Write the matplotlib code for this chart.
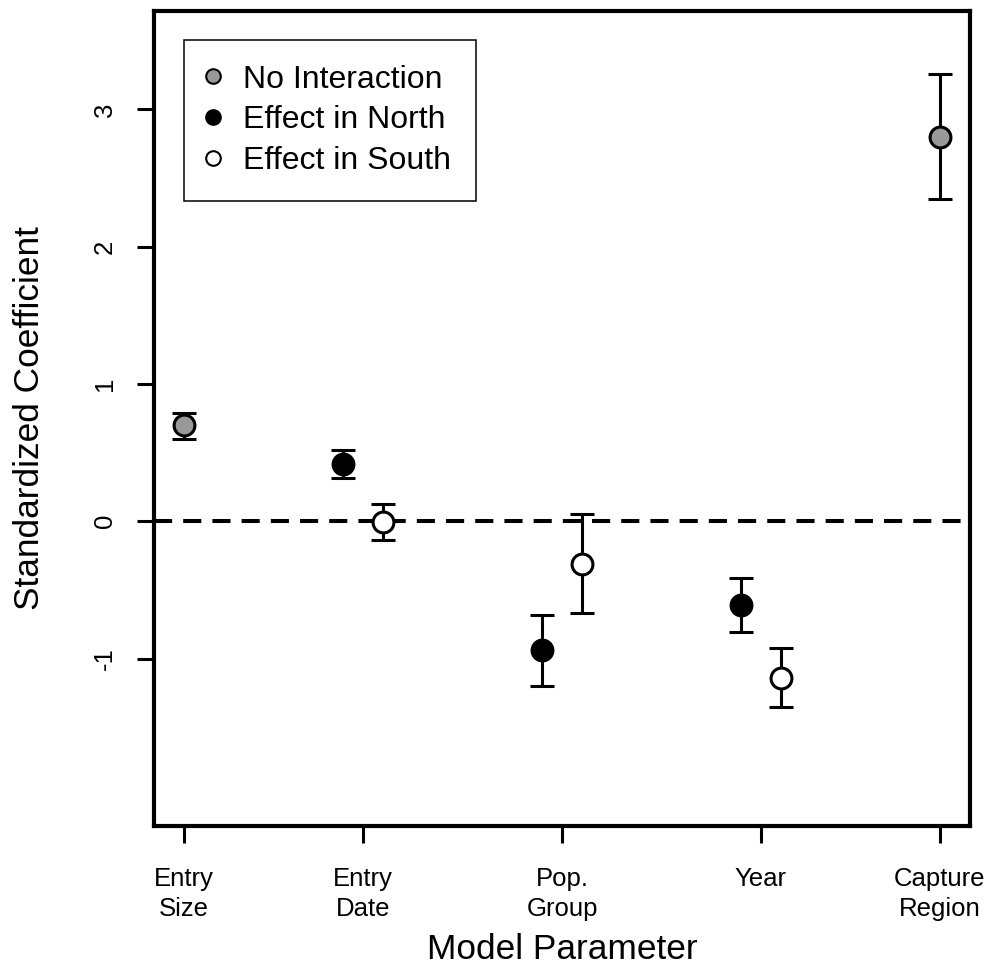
import matplotlib.pyplot as plt
from matplotlib.lines import Line2D

plt.rcParams['font.family'] = ['Liberation Sans', 'DejaVu Sans']
plt.rcParams['axes.unicode_minus'] = False

# Parameter names along the x axis and where their ticks sit
param_labels = ['Entry\nSize', 'Entry\nDate', 'Pop.\nGroup', 'Year', 'Capture\nRegion']
param_pos = [1.0, 1.9, 2.9, 3.9, 4.8]

# Terms without a region interaction
none_x = [1.0, 4.8]
none_est = [0.70, 2.80]
none_lo = [0.60, 2.35]
none_hi = [0.79, 3.26]

# Effect in the northern region
north_x = [1.8, 2.8, 3.8]
north_est = [0.42, -0.94, -0.61]
north_lo = [0.315, -1.20, -0.81]
north_hi = [0.52, -0.685, -0.415]

# Effect in the southern region
south_x = [2.0, 3.0, 4.0]
south_est = [-0.005, -0.31, -1.14]
south_lo = [-0.14, -0.67, -1.35]
south_hi = [0.125, 0.055, -0.92]

y_ticks = [-1, 0, 1, 2, 3]

groups = [
    (none_x, none_est, none_lo, none_hi, '#999999', 'No Interaction'),
    (north_x, north_est, north_lo, north_hi, 'black', 'Effect in North'),
    (south_x, south_est, south_lo, south_hi, 'white', 'Effect in South'),
]

fig = plt.figure(figsize=(9.9, 9.65), dpi=100)
ax = fig.add_axes([0.1556, 0.1440, 0.8242, 0.8451])

# zero reference line
ax.axhline(0, color='black', lw=2.9, ls=(0, (4.5, 2.75)), zorder=1)

handles = []
for xs, est, lo, hi, fc, name in groups:
    err = [[e - l for e, l in zip(est, lo)], [h - e for e, h in zip(est, hi)]]
    ax.errorbar(xs, est, yerr=err, fmt='none', ecolor='black', elinewidth=2.2,
                capsize=8.6, capthick=2.2, zorder=2)
    ax.plot(xs, est, 'o', ms=15, mfc=fc, mec='black', mew=2.2, zorder=3)
    handles.append(Line2D([], [], marker='o', ls='none', ms=10.5, mfc=fc,
                          mec='black', mew=1.5, label=name))

ax.set_xlim(0.848, 4.952)
ax.set_ylim(-2.22, 3.72)

ax.set_xticks(param_pos)
ax.set_xticklabels(param_labels, fontsize=18.5, linespacing=1.3)
ax.set_yticks(y_ticks)
ax.set_yticklabels([str(v) for v in y_ticks], fontsize=18.5, rotation=90, va='center')
ax.tick_params(axis='x', direction='out', length=12.5, width=2.2, pad=17.3)
ax.tick_params(axis='y', direction='out', length=12.5, width=2.2, pad=14)

for sp in ax.spines.values():
    sp.set_linewidth(3)

ax.set_xlabel('Model Parameter', fontsize=25.4)
ax.xaxis.set_label_coords(0.5, -0.1312)
ax.set_ylabel('Standardized Coefficient', fontsize=25.4)
ax.yaxis.set_label_coords(-0.133, 0.5)

leg = ax.legend(handles=handles, loc='upper left', bbox_to_anchor=(0.0362, 0.9638),
                borderaxespad=0, fontsize=23, frameon=True, fancybox=False,
                framealpha=1, edgecolor='black', borderpad=0.77, handlelength=0.31,
                handletextpad=0.785, labelspacing=0.34, numpoints=1)
leg.get_frame().set_linewidth(1.1)

plt.savefig('out.png', dpi=100)
plt.close()
